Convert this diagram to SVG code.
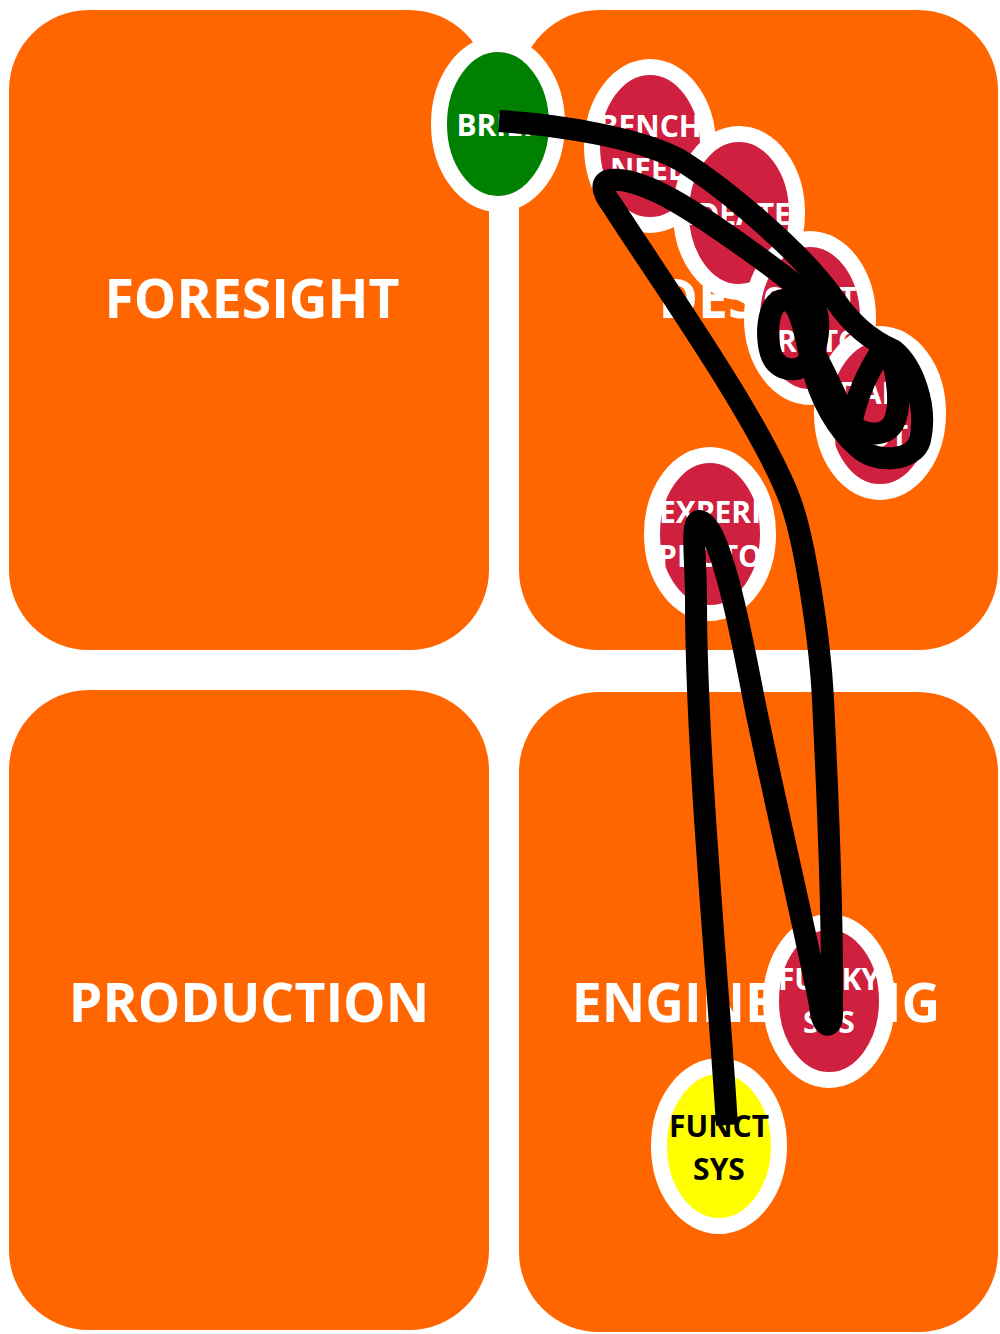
<svg xmlns="http://www.w3.org/2000/svg" width="1000" height="1334" viewBox="0 0 1000 1334">
<style>
.q{fill:#FF6600}
.ql{font-family:"Open Sans","DejaVu Sans",sans-serif;font-weight:bold;font-size:53.5px;fill:#fff;text-anchor:middle}
.n{stroke:#fff;stroke-width:16}
.red{fill:#D0203F}
.nl{font-family:"Open Sans","DejaVu Sans",sans-serif;font-weight:bold;font-size:30px;fill:#fff;text-anchor:middle}
.dark{fill:#000}
.flow{fill:none;stroke:#000;stroke-width:22;stroke-linecap:butt;stroke-linejoin:round}
</style>
<rect width="1000" height="1334" fill="#fff"/>
<g id="foresight"><rect class="q" x="9" y="10" width="480" height="640" rx="80"/><text class="ql" x="252" y="318">FORESIGHT</text></g>
<g id="design"><rect class="q" x="519" y="10" width="479" height="640" rx="80"/><text class="ql" x="758" y="318">DESIGN</text></g>
<g id="production"><rect class="q" x="9" y="690" width="480" height="640" rx="80"/><text class="ql" x="249" y="1022">PRODUCTION</text></g>
<g id="engineering"><rect class="q" x="519" y="692" width="479" height="640" rx="80"/><text class="ql" x="756" y="1022">ENGINEERING</text></g>
<g id="brief"><ellipse class="n" fill="#008000" cx="498" cy="124" rx="59" ry="80"/><text class="nl" x="498" y="136">BRIEF</text></g>
<g id="bench-need"><ellipse class="n red" cx="650" cy="146" rx="58" ry="79"/><text class="nl" x="650" y="137">BENCH</text><text class="nl" x="650" y="180">NEED</text></g>
<g id="ideate"><ellipse class="n red" cx="739" cy="213" rx="58" ry="79"/><text class="nl" x="739" y="225">IDEATE</text></g>
<g id="craft-proto"><ellipse class="n red" cx="810" cy="318" rx="58" ry="79"/><text class="nl" x="810" y="309">CRAFT</text><text class="nl" x="810" y="352">PROTO</text></g>
<g id="dark-proto"><ellipse class="n red" cx="880" cy="413" rx="58" ry="79"/><text class="nl" x="880" y="404">DARK</text><text class="nl" x="880" y="447">PROTO</text></g>
<g id="experi-proto"><ellipse class="n red" cx="710" cy="534" rx="58" ry="79"/><text class="nl" x="710" y="523">EXPERI</text><text class="nl" x="710" y="567">PROTO</text></g>
<g id="funky-sys"><ellipse class="n red" cx="829" cy="1001" rx="58" ry="79"/><text class="nl" x="829" y="990">FUNKY</text><text class="nl" x="829" y="1033">SYS</text></g>
<g id="funct-sys"><ellipse class="n" fill="#FFFF00" cx="719" cy="1146" rx="60" ry="80"/><text class="nl dark" x="719" y="1137">FUNCT</text><text class="nl dark" x="719" y="1180">SYS</text></g>
<g id="connectors">
<path class="flow" d="M 499,121 C 560,125 640,138 680,160 C 722,186 800,250 835,300 C 850,322 870,340 893,350 C 912,365 928,405 920,440 C 914,462 875,464 858,447 C 838,430 820,400 812,365 C 806,340 802,302 785,300 C 766,298 764,345 774,360 C 784,374 806,372 812,355 C 820,338 822,310 808,295 C 780,272 720,228 680,204 C 650,186 625,178 610,180 C 600,182 602,192 612,205 C 660,280 760,420 790,500 C 805,540 820,640 823,700 C 826,760 833,900 832,1012 C 833,1030 822,1030 820,1005 C 805,930 770,780 754,700 C 745,655 722,525 700,521 C 690,521 696,555 696,600 C 696,750 718,980 727,1125"/>
<path class="flow" d="M 814,352 C 826,375 838,398 850,430 M 882,350 C 868,372 856,395 850,430 M 890,350 C 898,378 902,408 893,424 C 885,436 868,436 856,428"/>
</g>
</svg>
